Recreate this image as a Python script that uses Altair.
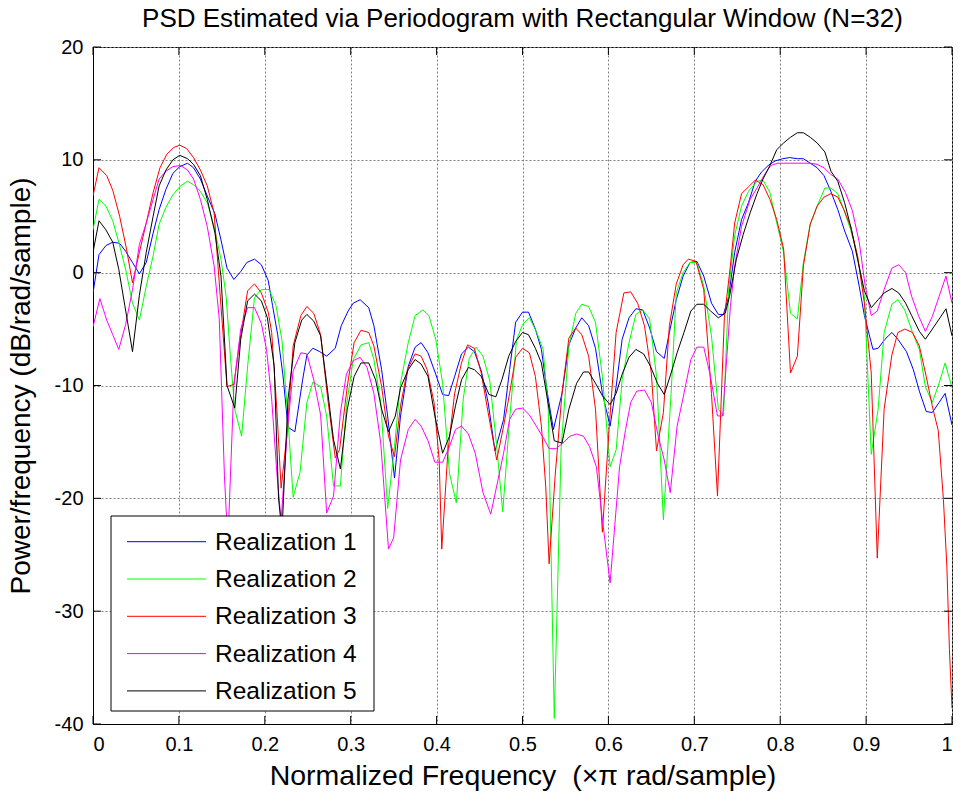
import altair as alt
import pandas as pd

SERIES = ["Realization 1", "Realization 2", "Realization 3", "Realization 4", "Realization 5"]
COLORS = ["#0000ff", "#00ff00", "#ff0000", "#ff00ff", "#000000"]

X_TICKS = [0, 0.1, 0.2, 0.3, 0.4, 0.5, 0.6, 0.7, 0.8, 0.9, 1]
Y_TICKS = [-40, -30, -20, -10, 0, 10, 20]

# Realization 1 (blue)
r1_f = [0.000, 0.007, 0.015, 0.023, 0.031, 0.038, 0.046, 0.054, 0.062, 0.070, 0.077, 0.085, 0.093, 0.101,
        0.110, 0.117, 0.125, 0.133, 0.142, 0.149, 0.156, 0.164, 0.172, 0.179, 0.188, 0.196, 0.204, 0.209,
        0.215, 0.221, 0.227, 0.235, 0.244, 0.249, 0.256, 0.264, 0.272, 0.282, 0.289, 0.297, 0.303, 0.311,
        0.321, 0.327, 0.336, 0.343, 0.351, 0.358, 0.367, 0.375, 0.382, 0.390, 0.399, 0.407, 0.414, 0.421,
        0.429, 0.437, 0.444, 0.452, 0.460, 0.468, 0.478, 0.485, 0.492, 0.500, 0.507, 0.515, 0.522, 0.529,
        0.536, 0.546, 0.554, 0.562, 0.569, 0.577, 0.585, 0.593, 0.602, 0.609, 0.616, 0.624, 0.632, 0.640,
        0.648, 0.656, 0.665, 0.671, 0.679, 0.687, 0.695, 0.703, 0.711, 0.720, 0.728, 0.734, 0.740, 0.747,
        0.755, 0.763, 0.771, 0.778, 0.786, 0.794, 0.803, 0.811, 0.820, 0.827, 0.835, 0.843, 0.851, 0.859,
        0.867, 0.875, 0.884, 0.892, 0.898, 0.908, 0.914, 0.922, 0.930, 0.937, 0.947, 0.955, 0.962, 0.970,
        0.977, 0.985, 0.992, 1.000]
r1_db = [-1.8, 1.6, 2.4, 2.7, 2.6, 1.9, 0.9, -0.1, 0.9, 3.5, 5.6, 7.4, 8.8, 9.4,
         9.7, 9.3, 8.3, 6.8, 5.2, 2.9, 0.4, -0.6, 0.1, 0.9, 1.2, 0.7, -0.7, -2.9,
         -5.5, -9.0, -13.7, -14.1, -9.5, -7.3, -6.7, -7.0, -7.4, -6.7, -4.7, -3.4, -2.7, -2.4,
         -3.1, -4.7, -8.6, -12.7, -18.2, -12.7, -8.3, -6.6, -6.2, -7.1, -9.0, -10.8, -10.9, -9.2,
         -7.2, -6.6, -7.0, -8.7, -11.5, -15.8, -13.0, -8.6, -4.4, -3.5, -3.5, -5.0, -6.8, -10.7,
         -13.9, -10.7, -6.4, -4.9, -4.0, -4.7, -6.7, -10.7, -13.6, -10.1, -5.9, -4.0, -3.2, -3.3,
         -4.9, -7.0, -7.6, -5.3, -2.4, -0.3, 0.9, 1.0, -0.3, -2.7, -3.7, -3.7, -2.1, 1.8,
         4.7, 6.2, 8.1, 8.9, 9.5, 9.9, 10.1, 10.2, 10.1, 10.1, 9.7, 9.3, 8.6, 7.2,
         5.6, 3.7, 1.9, -1.2, -3.8, -6.8, -6.7, -5.9, -5.3, -5.9, -7.0, -8.6, -10.5, -12.3,
         -12.4, -11.5, -10.7, -13.5]

# Realization 2 (green)
r2_f = [0.000, 0.007, 0.015, 0.023, 0.030, 0.038, 0.046, 0.054, 0.062, 0.070, 0.077, 0.085, 0.093, 0.102,
        0.110, 0.117, 0.125, 0.133, 0.141, 0.149, 0.155, 0.160, 0.165, 0.173, 0.180, 0.188, 0.196, 0.205,
        0.213, 0.220, 0.227, 0.233, 0.241, 0.249, 0.256, 0.265, 0.272, 0.280, 0.288, 0.295, 0.303, 0.312,
        0.321, 0.327, 0.335, 0.343, 0.351, 0.358, 0.367, 0.375, 0.384, 0.391, 0.399, 0.407, 0.415, 0.423,
        0.431, 0.438, 0.446, 0.454, 0.462, 0.470, 0.477, 0.485, 0.493, 0.500, 0.508, 0.516, 0.524, 0.530,
        0.537, 0.545, 0.554, 0.562, 0.569, 0.577, 0.585, 0.593, 0.602, 0.609, 0.616, 0.624, 0.632, 0.640,
        0.648, 0.656, 0.664, 0.673, 0.679, 0.687, 0.695, 0.703, 0.711, 0.720, 0.728, 0.734, 0.740, 0.747,
        0.755, 0.763, 0.773, 0.780, 0.788, 0.796, 0.804, 0.812, 0.820, 0.827, 0.835, 0.843, 0.852, 0.859,
        0.867, 0.874, 0.882, 0.890, 0.898, 0.906, 0.914, 0.921, 0.930, 0.937, 0.945, 0.954, 0.962, 0.969,
        0.977, 0.985, 0.992, 1.000]
r2_db = [3.8, 6.5, 5.9, 4.6, 2.7, 0.3, -2.7, -4.2, -1.2, 1.5, 4.3, 5.8, 6.9, 7.7,
         8.1, 7.8, 7.2, 6.2, 4.1, 1.2, -2.1, -7.5, -12.1, -14.5, -8.3, -2.2, -1.5, -1.5,
         -2.9, -6.0, -13.0, -19.9, -17.7, -11.5, -9.7, -10.1, -12.7, -18.9, -18.9, -11.8, -7.7, -6.4,
         -6.2, -7.7, -11.5, -20.9, -15.4, -9.8, -6.2, -3.8, -3.3, -3.8, -5.9, -9.8, -17.8, -20.4,
         -11.2, -7.6, -6.6, -7.4, -9.6, -15.4, -21.2, -13.0, -6.0, -4.6, -4.0, -5.2, -6.8, -12.1,
         -39.5, -15.5, -6.5, -3.6, -2.8, -3.0, -4.4, -9.2, -17.2, -15.7, -9.5, -6.2, -3.7, -3.3,
         -4.1, -9.2, -21.9, -10.7, -1.8, 0.0, 0.9, 0.9, -1.2, -5.6, -12.1, -12.7, -1.5, 3.3,
         5.9, 7.2, 8.1, 8.2, 7.1, 4.4, 1.8, -3.6, -4.1, 0.9, 4.3, 5.9, 7.5, 7.5,
         7.0, 5.6, 3.8, 1.5, -2.1, -16.1, -12.1, -5.3, -2.8, -2.4, -3.3, -5.3, -6.8, -10.1,
         -11.5, -9.8, -8.0, -10.2]

# Realization 3 (red)
r3_f = [0.000, 0.007, 0.016, 0.023, 0.031, 0.039, 0.046, 0.054, 0.062, 0.070, 0.078, 0.086, 0.094, 0.101,
        0.109, 0.117, 0.125, 0.133, 0.141, 0.149, 0.156, 0.164, 0.172, 0.180, 0.188, 0.196, 0.204, 0.208,
        0.214, 0.219, 0.226, 0.233, 0.242, 0.249, 0.257, 0.265, 0.273, 0.282, 0.287, 0.296, 0.304, 0.312,
        0.321, 0.327, 0.336, 0.344, 0.351, 0.358, 0.366, 0.375, 0.382, 0.389, 0.397, 0.403, 0.406, 0.413,
        0.421, 0.429, 0.436, 0.444, 0.452, 0.460, 0.470, 0.478, 0.485, 0.492, 0.500, 0.508, 0.515, 0.522,
        0.527, 0.531, 0.538, 0.546, 0.554, 0.562, 0.569, 0.577, 0.585, 0.590, 0.593, 0.601, 0.609, 0.618,
        0.626, 0.634, 0.642, 0.650, 0.656, 0.664, 0.671, 0.679, 0.687, 0.693, 0.702, 0.711, 0.720, 0.727,
        0.735, 0.742, 0.747, 0.755, 0.763, 0.771, 0.780, 0.788, 0.796, 0.804, 0.812, 0.820, 0.827, 0.835,
        0.843, 0.851, 0.859, 0.867, 0.874, 0.882, 0.890, 0.898, 0.906, 0.913, 0.921, 0.930, 0.937, 0.945,
        0.954, 0.962, 0.970, 0.977, 0.984, 0.990, 0.994, 0.997, 1.000]
r3_db = [6.8, 9.3, 8.6, 7.3, 5.0, 2.1, -0.9, 1.8, 4.4, 7.1, 9.3, 10.5, 11.1, 11.3,
         11.0, 10.2, 9.1, 7.7, 5.3, -3.0, -10.1, -9.9, -5.5, -1.6, -1.0, -1.8, -3.5, -5.3,
         -12.1, -19.1, -14.2, -6.5, -3.8, -3.0, -3.6, -5.5, -11.0, -16.4, -15.7, -10.1, -6.2, -5.1,
         -5.3, -6.5, -10.1, -14.5, -16.3, -11.8, -8.6, -7.2, -7.4, -8.6, -11.5, -16.6, -24.5, -16.0,
         -10.7, -8.0, -6.4, -6.7, -8.9, -12.4, -16.6, -13.6, -10.7, -7.5, -6.7, -7.1, -9.2, -13.6,
         -18.9, -25.8, -18.0, -10.7, -5.8, -4.9, -5.5, -7.4, -12.1, -19.0, -23.0, -13.6, -5.3, -1.8,
         -1.7, -2.7, -4.7, -8.9, -15.8, -12.4, -4.7, -1.0, 0.7, 1.2, 1.0, -1.5, -10.7, -19.8,
         -4.0, 0.6, 4.4, 7.0, 7.6, 8.2, 7.8, 6.5, 4.7, 2.1, -8.9, -7.4, 0.6, 4.3,
         5.9, 6.7, 7.0, 6.7, 5.6, 4.1, 1.5, -2.7, -8.9, -25.3, -12.1, -7.3, -5.3, -5.0,
         -5.3, -6.5, -9.2, -11.8, -14.0, -20.1, -26.0, -33.4, -38.6]

# Realization 4 (magenta)
r4_f = [0.000, 0.008, 0.016, 0.023, 0.030, 0.038, 0.046, 0.054, 0.062, 0.070, 0.077, 0.085, 0.093, 0.102,
        0.110, 0.117, 0.125, 0.133, 0.141, 0.147, 0.153, 0.157, 0.164, 0.172, 0.180, 0.188, 0.196, 0.202,
        0.208, 0.214, 0.219, 0.226, 0.233, 0.242, 0.249, 0.257, 0.265, 0.272, 0.280, 0.288, 0.295, 0.303,
        0.311, 0.319, 0.327, 0.335, 0.344, 0.350, 0.358, 0.367, 0.375, 0.382, 0.390, 0.398, 0.407, 0.415,
        0.422, 0.429, 0.437, 0.445, 0.454, 0.463, 0.470, 0.478, 0.485, 0.492, 0.500, 0.508, 0.516, 0.524,
        0.531, 0.539, 0.547, 0.555, 0.563, 0.571, 0.578, 0.586, 0.594, 0.602, 0.613, 0.620, 0.626, 0.633,
        0.642, 0.650, 0.658, 0.665, 0.672, 0.680, 0.688, 0.696, 0.703, 0.711, 0.718, 0.727, 0.733, 0.742,
        0.747, 0.755, 0.765, 0.773, 0.781, 0.789, 0.797, 0.804, 0.812, 0.820, 0.827, 0.835, 0.843, 0.851,
        0.859, 0.867, 0.876, 0.884, 0.892, 0.899, 0.906, 0.913, 0.921, 0.930, 0.938, 0.946, 0.953, 0.961,
        0.969, 0.977, 0.985, 0.993, 1.000]
r4_db = [-4.8, -2.3, -4.2, -5.5, -6.8, -4.6, -1.5, 2.5, 4.4, 6.5, 8.3, 9.0, 9.4, 9.5,
         9.1, 8.3, 6.5, 4.1, 0.6, -4.1, -18.0, -24.0, -10.0, -5.0, -3.1, -3.1, -4.5, -6.8,
         -11.2, -17.7, -22.0, -14.2, -8.7, -7.1, -7.2, -9.5, -12.6, -21.3, -19.8, -12.4, -9.0, -7.8,
         -7.5, -8.4, -10.7, -15.1, -24.5, -23.5, -16.6, -13.9, -13.0, -13.6, -14.9, -16.8, -16.8, -15.4,
         -13.9, -13.6, -14.3, -16.0, -19.5, -21.4, -18.9, -16.0, -13.0, -12.1, -12.0, -12.6, -13.6, -14.6,
         -15.6, -15.6, -15.1, -14.5, -14.3, -14.5, -15.4, -17.2, -22.5, -27.5, -17.2, -13.9, -11.5, -10.5,
         -10.4, -11.5, -14.5, -16.6, -19.5, -13.6, -10.7, -7.7, -6.6, -6.6, -8.9, -12.7, -12.7, -3.0,
         0.6, 4.1, 6.5, 7.5, 8.6, 9.5, 9.7, 9.7, 9.7, 9.7, 9.7, 9.7, 9.6, 9.3,
         8.7, 8.3, 7.1, 5.5, 2.7, -1.2, -3.8, -3.4, -1.5, 0.4, 0.7, 0.0, -2.1, -3.8,
         -5.2, -3.9, -2.1, -0.3, -2.7]

# Realization 5 (black)
r5_f = [0.000, 0.007, 0.015, 0.023, 0.030, 0.037, 0.046, 0.054, 0.062, 0.070, 0.077, 0.085, 0.093, 0.101,
        0.110, 0.117, 0.125, 0.133, 0.142, 0.149, 0.156, 0.165, 0.172, 0.180, 0.188, 0.196, 0.203, 0.211,
        0.216, 0.220, 0.227, 0.235, 0.243, 0.249, 0.257, 0.265, 0.273, 0.280, 0.288, 0.296, 0.304, 0.312,
        0.321, 0.329, 0.336, 0.344, 0.352, 0.358, 0.367, 0.375, 0.382, 0.390, 0.398, 0.407, 0.415, 0.422,
        0.429, 0.437, 0.444, 0.452, 0.461, 0.469, 0.476, 0.484, 0.492, 0.500, 0.507, 0.515, 0.522, 0.529,
        0.537, 0.546, 0.554, 0.563, 0.571, 0.577, 0.585, 0.593, 0.602, 0.609, 0.616, 0.624, 0.632, 0.641,
        0.649, 0.657, 0.665, 0.673, 0.680, 0.688, 0.696, 0.703, 0.711, 0.719, 0.728, 0.736, 0.741, 0.749,
        0.757, 0.765, 0.773, 0.780, 0.788, 0.796, 0.804, 0.812, 0.820, 0.827, 0.835, 0.843, 0.852, 0.859,
        0.867, 0.875, 0.883, 0.890, 0.898, 0.906, 0.914, 0.921, 0.930, 0.938, 0.946, 0.953, 0.962, 0.969,
        0.978, 0.986, 0.993, 1.000]
r5_db = [1.8, 4.6, 3.8, 2.7, 0.3, -2.9, -7.0, -2.0, 1.8, 5.0, 7.7, 9.1, 10.0, 10.4,
         10.1, 9.6, 8.6, 6.5, 3.5, -0.3, -10.0, -12.0, -5.9, -2.5, -1.9, -2.5, -4.0, -8.3,
         -20.0, -23.0, -11.2, -6.2, -4.2, -3.7, -4.3, -5.6, -10.4, -14.8, -17.4, -12.1, -9.2, -8.0,
         -8.0, -9.5, -12.1, -14.1, -12.7, -10.2, -8.6, -7.7, -8.1, -9.2, -12.7, -16.0, -14.5, -11.8,
         -9.5, -8.4, -8.6, -9.2, -10.8, -11.0, -9.5, -7.4, -6.1, -5.3, -5.5, -6.7, -8.0, -11.2,
         -14.9, -15.1, -12.1, -9.8, -8.8, -8.8, -9.8, -10.9, -11.7, -10.7, -9.0, -7.5, -6.8, -7.2,
         -8.3, -9.8, -10.8, -8.9, -7.1, -5.3, -3.4, -2.8, -2.8, -3.4, -4.0, -3.6, -2.1, 1.2,
         3.4, 5.3, 7.0, 8.3, 9.5, 10.9, 11.5, 12.0, 12.4, 12.4, 12.0, 11.5, 10.7, 9.0,
         8.1, 6.2, 3.8, 1.2, -1.6, -3.1, -2.4, -1.8, -1.4, -1.8, -2.7, -3.8, -5.2, -5.9,
         -4.9, -4.0, -3.2, -5.6]

FONT = "Liberation Sans"
PLOT_W, PLOT_H = 859, 677

rows = []
for name, fs, dbs in zip(SERIES, [r1_f, r2_f, r3_f, r4_f, r5_f], [r1_db, r2_db, r3_db, r4_db, r5_db]):
    for f, d in zip(fs, dbs):
        rows.append({"series": name, "freq": f, "psd": d})
psd = pd.DataFrame(rows)

x_scale = alt.Scale(domain=[0, 1], nice=False, zero=False)
y_scale = alt.Scale(domain=[-40, 20], nice=False, zero=False)

lines = alt.Chart(psd).mark_line(strokeWidth=1, clip=True).encode(
    x=alt.X("freq:Q", scale=x_scale,
            axis=alt.Axis(values=X_TICKS, format=".1~f",
                          title="Normalized Frequency \u00a0(\u00d7\u03c0 rad/sample)")),
    y=alt.Y("psd:Q", scale=y_scale,
            axis=alt.Axis(values=Y_TICKS, labelExpr="'' + datum.value",
                          title="Power/frequency (dB/rad/sample)")),
    color=alt.Color("series:N", scale=alt.Scale(domain=SERIES, range=COLORS), legend=None),
)

# inward tick marks on all four sides of the box
xt = pd.DataFrame({"t": X_TICKS})
yt = pd.DataFrame({"t": Y_TICKS})
tick_len_x = 0.0093
tick_len_y = 0.71
tick_style = dict(color="black", strokeWidth=1)

xb = alt.Chart(xt).mark_rule(**tick_style).encode(
    x=alt.X("t:Q", scale=x_scale), y=alt.YDatum(-40), y2=alt.Y2Datum(-40 + tick_len_y))
xtop = alt.Chart(xt).mark_rule(**tick_style).encode(
    x=alt.X("t:Q", scale=x_scale), y=alt.YDatum(20), y2=alt.Y2Datum(20 - tick_len_y))
yl = alt.Chart(yt).mark_rule(**tick_style).encode(
    y=alt.Y("t:Q", scale=y_scale), x=alt.XDatum(0), x2=alt.X2Datum(tick_len_x))
yr = alt.Chart(yt).mark_rule(**tick_style).encode(
    y=alt.Y("t:Q", scale=y_scale), x=alt.XDatum(1), x2=alt.X2Datum(1 - tick_len_x))

# boxed legend in the lower-left corner of the axes
LEG_LEFT, LEG_RIGHT, LEG_TOP, LEG_BOTTOM = 18, 281, 469, 664
ROW0, ROW_STEP = 494.7, 37.3
SYM_X0, SYM_X1, TEXT_X = 34, 113, 122

leg = pd.DataFrame({
    "series": SERIES,
    "color": COLORS,
    "ypix": [ROW0 + ROW_STEP * i for i in range(len(SERIES))],
})
leg["x0"] = SYM_X0
leg["x1"] = SYM_X1
leg["tx"] = TEXT_X

leg_box = alt.Chart(pd.DataFrame({"k": [0]})).mark_rect(
    fill="white", stroke="black", strokeWidth=1
).encode(
    x=alt.value(LEG_LEFT), x2=alt.value(LEG_RIGHT),
    y=alt.value(LEG_TOP), y2=alt.value(LEG_BOTTOM),
)
leg_lines = alt.Chart(leg).mark_rule(strokeWidth=1).encode(
    x=alt.X("x0:Q", scale=None), x2="x1:Q",
    y=alt.Y("ypix:Q", scale=None),
    color=alt.Color("color:N", scale=None),
)
leg_text = alt.Chart(leg).mark_text(
    align="left", baseline="middle", font=FONT, fontSize=24.5, color="black", dy=1
).encode(
    x=alt.X("tx:Q", scale=None),
    y=alt.Y("ypix:Q", scale=None),
    text="series:N",
)

chart = alt.layer(lines, xb, xtop, yl, yr, leg_box, leg_lines, leg_text).properties(
    width=PLOT_W, height=PLOT_H,
    padding={"left": 93, "top": 47, "right": 10, "bottom": 79},
    autosize=alt.AutoSizeParams(type="none"),
    title=alt.Title("PSD Estimated via Periodogram with Rectangular Window (N=32)",
                    font=FONT, fontSize=26, fontWeight="normal", color="black",
                    anchor="middle", offset=5),
).configure(
    background="white",
).configure_view(
    stroke="black", strokeWidth=1,
).configure_axis(
    domainColor="black", ticks=False, grid=True,
    gridColor="#808080", gridDash=[2, 2], gridWidth=1,
    labelFont=FONT, labelFontSize=20, labelColor="black", labelPadding=10,
    titleFont=FONT, titleFontWeight="normal", titleColor="black",
).configure_axisX(titlePadding=7, titleFontSize=28.5).configure_axisY(titlePadding=19, titleFontSize=28)

chart.save("out.html", embed_options={"renderer": "svg", "actions": False})
